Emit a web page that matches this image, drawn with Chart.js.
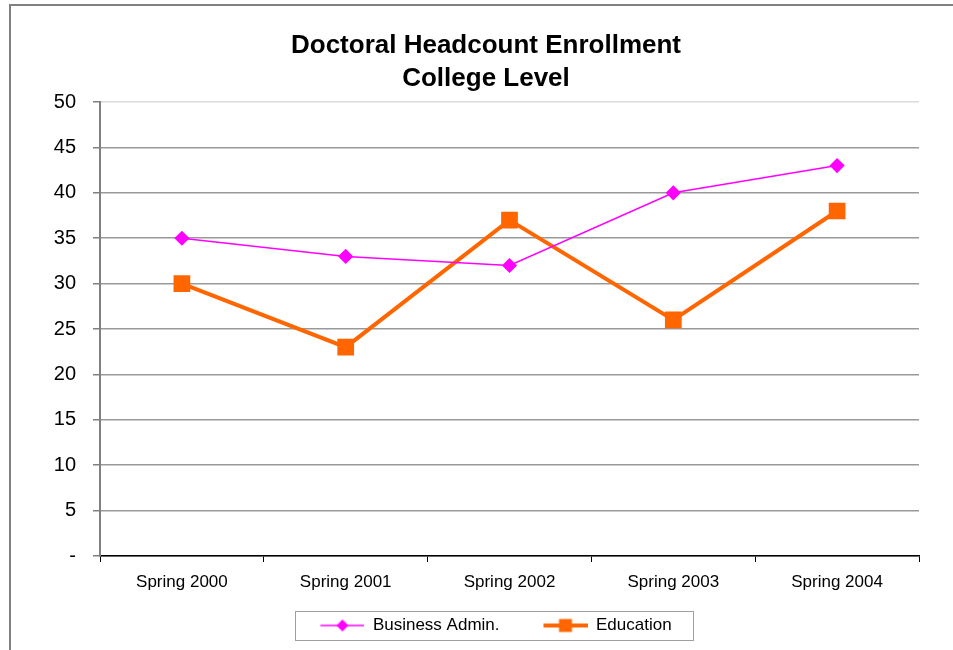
<!DOCTYPE html>
<html>
<head>
<meta charset="utf-8">
<script src="https://cdn.jsdelivr.net/npm/chart.js@4.4.1/dist/chart.umd.min.js"></script>
<style>
  body { margin: 0; background: #fff; }
  canvas { display: block; }
</style>
</head>
<body>
<canvas id="chart" width="953" height="650"></canvas>
<script>
// chart data
const categories = ['Spring 2000', 'Spring 2001', 'Spring 2002', 'Spring 2003', 'Spring 2004'];
const businessAdmin = [35, 33, 32, 40, 43];
const education = [30, 23, 37, 26, 38];
const yTicks = [0, 5, 10, 15, 20, 25, 30, 35, 40, 45, 50];

const FONT = "'Liberation Sans', Arial, sans-serif";
const SYM_W = 44;   // legend symbol length
const SYM_GAP = 20; // blank space left of each legend symbol (spacing between items)

// little line+marker picture used as legend symbol
function legendSymbol(color, lineWidth, shape, size) {
  const c = document.createElement('canvas');
  c.width = SYM_W + SYM_GAP; c.height = 18;
  const g = c.getContext('2d');
  const x0 = SYM_GAP, cx = SYM_GAP + SYM_W / 2;
  g.strokeStyle = color;
  g.lineWidth = lineWidth;
  g.beginPath();
  g.moveTo(x0, 9); g.lineTo(x0 + SYM_W, 9);
  g.stroke();
  g.fillStyle = color;
  g.beginPath();
  if (shape === 'diamond') {
    g.moveTo(cx, 9 - size); g.lineTo(cx + size, 9); g.lineTo(cx, 9 + size); g.lineTo(cx - size, 9);
  } else {
    g.rect(cx - size, 9 - size, size * 2, size * 2);
  }
  g.fill();
  return c;
}

// frame lines + box round the legend
const framePlugin = {
  id: 'frame',
  beforeDraw(chart) {
    const ctx = chart.ctx;
    ctx.save();
    ctx.fillStyle = '#fff';
    ctx.fillRect(0, 0, chart.width, chart.height);
    ctx.strokeStyle = '#808080';
    ctx.lineWidth = 2;
    ctx.beginPath();
    ctx.moveTo(10, chart.height); ctx.lineTo(10, 5); ctx.lineTo(chart.width, 5);
    ctx.stroke();
    ctx.restore();
  },
  afterDraw(chart) {
    const boxes = chart.legend.legendHitBoxes;
    if (!boxes || !boxes.length) return;
    const left = Math.min(...boxes.map(b => b.left)) + SYM_GAP - 25;
    const right = Math.max(...boxes.map(b => b.left + b.width)) + 22;
    const top = Math.min(...boxes.map(b => b.top)) - 6;
    const bottom = Math.max(...boxes.map(b => b.top + b.height)) + 6;
    const ctx = chart.ctx;
    ctx.save();
    ctx.strokeStyle = '#a0a0a0';
    ctx.lineWidth = 1;
    ctx.strokeRect(Math.round(left) + 0.5, Math.round(top) + 0.5, Math.round(right - left), Math.round(bottom - top));
    ctx.restore();
  }
};

const symbols = [
  legendSymbol('#FF00FF', 1.5, 'diamond', 6),
  legendSymbol('#FF6600', 4, 'square', 6.5)
];

new Chart(document.getElementById('chart'), {
  type: 'line',
  data: {
    labels: categories,
    datasets: [
      {
        label: 'Business Admin.',
        data: businessAdmin,
        borderColor: '#FF00FF',
        backgroundColor: '#FF00FF',
        borderWidth: 1.5,
        pointStyle: 'rectRot',
        pointRadius: 6.5,
        pointHoverRadius: 6.5,
        tension: 0
      },
      {
        label: 'Education',
        data: education,
        borderColor: '#FF6600',
        backgroundColor: '#FF6600',
        borderWidth: 4,
        pointStyle: 'rect',
        pointRadius: 9,
        pointHoverRadius: 9,
        tension: 0
      }
    ]
  },
  options: {
    responsive: false,
    animation: false,
    events: [],
    layout: { padding: { left: 53, right: 34, top: 0, bottom: 6 } },
    plugins: {
      title: {
        display: true,
        text: ['Doctoral Headcount Enrollment', 'College Level'],
        color: '#000',
        font: { family: FONT, size: 26, weight: 'bold', lineHeight: 1.27 },
        padding: { top: 29, bottom: 7 }
      },
      legend: {
        position: 'bottom',
        labels: {
          color: '#000',
          font: { family: FONT, size: 17 },
          usePointStyle: true,
          pointStyleWidth: SYM_W + SYM_GAP,
          padding: 24,
          generateLabels(chart) {
            return chart.data.datasets.map((ds, i) => ({
              text: ds.label,
              pointStyle: symbols[i],
              fillStyle: ds.borderColor,
              strokeStyle: ds.borderColor,
              lineWidth: 0,
              hidden: false,
              datasetIndex: i
            }));
          }
        }
      },
      tooltip: { enabled: false }
    },
    scales: {
      x: {
        offset: true,
        afterFit(scale) { scale.height = 37; },
        grid: {
          offset: true,
          drawOnChartArea: false,
          drawTicks: true,
          tickLength: 6,
          color: '#000'
        },
        border: { color: '#000', width: 1.5 },
        ticks: {
          color: '#000',
          font: { family: FONT, size: 17 },
          padding: 10,
          maxRotation: 0
        }
      },
      y: {
        min: 0,
        max: 50,
        afterFit(scale) { scale.width = 47; },
        afterBuildTicks(scale) { scale.ticks = yTicks.map(v => ({ value: v })); },
        grid: {
          color: ctx => (ctx.tick && ctx.tick.value === 50 ? '#dcdcdc' : '#999999'),
          lineWidth: 1.5,
          tickLength: 7,
          tickColor: '#808080'
        },
        border: { color: '#808080', width: 2 },
        ticks: {
          color: '#000',
          font: { family: FONT, size: 20 },
          padding: 17,
          callback: v => (v === 0 ? '-' : v)
        }
      }
    }
  },
  plugins: [framePlugin]
});
</script>
</body>
</html>
